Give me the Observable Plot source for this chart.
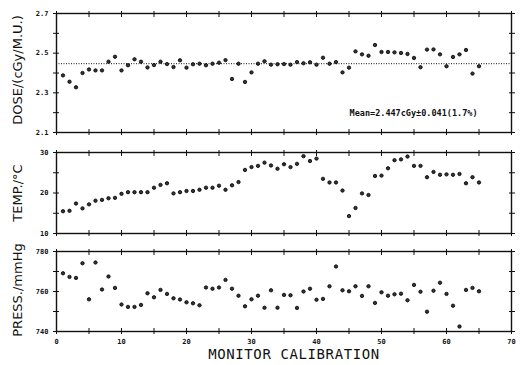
<!DOCTYPE html>
<html><head><meta charset="utf-8">
<script src="https://cdn.jsdelivr.net/npm/d3@7"></script>
<script src="https://cdn.jsdelivr.net/npm/@observablehq/plot@0.6"></script>
<style>
body{margin:0;background:#fff;}
#c{position:relative;width:523px;height:365px;overflow:hidden;background:#fff;}
.p{position:absolute;left:0;}
.yl{position:absolute;transform:translate(-50%,-50%) rotate(-90deg);white-space:nowrap;font-family:"DejaVu Sans";font-size:13px;color:#111;}
#xt{position:absolute;left:294px;top:346px;transform:translateX(-50%);white-space:nowrap;font-family:"DejaVu Sans Mono";font-size:14px;letter-spacing:0.6px;color:#111;}
</style></head><body><div id="c"></div>
<script>
const monitorCalibration = [1,2,3,4,5,6,7,8,9,10,11,12,13,14,15,16,17,18,19,20,21,22,23,24,25,26,27,28,29,30,31,32,33,34,35,36,37,38,39,40,41,42,43,44,45,46,47,48,49,50,51,52,53,54,55,56,57,58,59,60,61,62,63,64,65];
const dose = [2.388,2.356,2.328,2.400,2.418,2.413,2.413,2.457,2.482,2.413,2.439,2.469,2.457,2.428,2.440,2.457,2.445,2.430,2.464,2.427,2.444,2.447,2.439,2.447,2.452,2.465,2.370,2.447,2.355,2.403,2.447,2.459,2.442,2.444,2.445,2.442,2.455,2.449,2.454,2.442,2.477,2.447,2.455,2.403,2.427,2.509,2.494,2.487,2.541,2.506,2.506,2.504,2.501,2.496,2.476,2.429,2.518,2.519,2.494,2.434,2.481,2.494,2.516,2.397,2.434];
const temperature = [15.5,15.6,17.4,16.2,17.2,18.1,18.3,18.7,18.8,19.8,20.2,20.2,20.2,20.2,21.3,22.0,22.4,19.9,20.2,20.5,20.5,20.8,21.3,21.3,21.8,20.8,21.9,22.7,25.7,26.4,26.7,27.5,26.8,26.0,27.1,26.4,27.2,29.1,27.9,28.5,23.5,22.6,22.6,20.6,14.3,16.3,19.9,19.5,24.2,24.3,26.1,28.1,28.3,29.0,26.7,26.7,23.9,25.2,24.5,24.6,24.5,24.7,22.4,23.9,22.6];
const pressure = [769.1,767.3,766.8,774.1,756.1,774.5,761.0,767.5,761.8,753.5,752.3,752.3,753.3,759.1,757.1,760.8,758.8,756.6,756.0,754.6,754.1,753.1,762.0,761.4,762.0,765.8,761.4,757.9,752.6,756.1,757.9,751.9,760.6,751.9,758.3,758.1,751.8,760.0,761.4,755.9,756.3,762.6,772.5,760.6,760.1,762.6,757.8,762.6,754.3,759.6,757.9,758.6,758.9,755.6,763.3,759.9,749.9,760.4,764.4,758.8,752.9,742.5,760.8,761.8,760.1];
const meanDose = 2.447;
const meanText = "Mean=2.447cGy±0.041(1.7%)";
const xDomain = [0, 70];
const xTicks = [0,5,10,15,20,25,30,35,40,45,50,55,60,65,70];
const xTickLabels = [0,10,20,30,40,50,60,70];
const doseDomain = [2.1, 2.7];
const doseTicks = [2.1,2.2,2.3,2.4,2.5,2.6,2.7];
const doseTickLabels = [2.1,2.3,2.5,2.7];
const tempDomain = [10, 30];
const tempTicks = [10,15,20,25,30];
const tempTickLabels = [10,20,30];
const pressDomain = [740, 780];
const pressTicks = [740,750,760,770,780];
const pressTickLabels = [740,760,780];
const yTitles = ["DOSE/(cGy/M.U.)", "TEMP./°C", "PRESS./mmHg"];
const xTitle = "MONITOR CALIBRATION";

const c = document.getElementById("c");
const ink = "#111";

function panel({values, yDomain, yTicks, yLabels, fmt, top, height, marginTop, marginBottom, xLabels, extra = []}) {
  const data = monitorCalibration.map((x, i) => ({x, y: values[i]}));
  const lab = (list) => (d) => list.includes(d) ? fmt(d) : "";
  const marks = [
    Plot.frame({stroke: ink, strokeWidth: 1.4}),
    ...extra,
    Plot.axisX(xTicks, {anchor: "top", tickSize: 3, text: null, label: null, stroke: ink}),
    Plot.axisX(xTicks, {anchor: "top", tickSize: -3, text: null, label: null, stroke: ink}),
    Plot.axisX(xTicks, {anchor: "bottom", tickSize: 3, tickPadding: 5, label: null, stroke: ink,
      tickFormat: xLabels ? (d) => xTickLabels.includes(d) ? String(d) : "" : () => ""}),
    Plot.axisX(xTicks, {anchor: "bottom", tickSize: -3, text: null, label: null, stroke: ink}),
    Plot.axisY(yTicks, {anchor: "left", tickSize: 3, tickPadding: 5, label: null, stroke: ink, tickFormat: lab(yLabels)}),
    Plot.axisY(yTicks, {anchor: "left", tickSize: -3, text: null, label: null, stroke: ink}),
    Plot.axisY(yTicks, {anchor: "right", tickSize: 3, text: null, label: null, stroke: ink}),
    Plot.axisY(yTicks, {anchor: "right", tickSize: -3, text: null, label: null, stroke: ink}),
    Plot.dot(data, {x: "x", y: "y", r: 1.7, fill: "#333", stroke: "#000", strokeWidth: 0.8})
  ];
  const svg = Plot.plot({
    width: 523, height, marginLeft: 56, marginRight: 12, marginTop, marginBottom,
    x: {domain: xDomain},
    y: {domain: yDomain},
    style: {fontFamily: "DejaVu Sans Mono", fontSize: "7px", fontWeight: "bold", background: "transparent", color: ink, overflow: "visible"},
    marks
  });
  svg.classList.add("p");
  svg.style.top = top + "px";
  c.appendChild(svg);
}

panel({values: dose, yDomain: doseDomain, yTicks: doseTicks, yLabels: doseTickLabels, fmt: d3.format(".1f"),
  top: 0, height: 140, marginTop: 13, marginBottom: 8, xLabels: false,
  extra: [
    Plot.ruleY([meanDose], {stroke: ink, strokeWidth: 1, strokeDasharray: "1,1.5"}),
    Plot.text([meanText], {text: (d) => d, frameAnchor: "bottom-right", dx: -34, dy: -17, fontSize: 8.5, fontWeight: "bold", fontFamily: "DejaVu Sans Mono", fill: ink})
  ]});
panel({values: temperature, yDomain: tempDomain, yTicks: tempTicks, yLabels: tempTickLabels, fmt: String,
  top: 140, height: 100, marginTop: 12, marginBottom: 7, xLabels: false});
panel({values: pressure, yDomain: pressDomain, yTicks: pressTicks, yLabels: pressTickLabels, fmt: String,
  top: 240, height: 125, marginTop: 11, marginBottom: 34, xLabels: true});

const yPos = [[17, 70], [17, 193], [17, 290]];
yTitles.forEach((t, i) => {
  const d = document.createElement("div");
  d.className = "yl";
  d.textContent = t;
  d.style.left = yPos[i][0] + "px";
  d.style.top = yPos[i][1] + "px";
  c.appendChild(d);
});
const xt = document.createElement("div");
xt.id = "xt";
xt.textContent = xTitle;
c.appendChild(xt);
</script></body></html>
